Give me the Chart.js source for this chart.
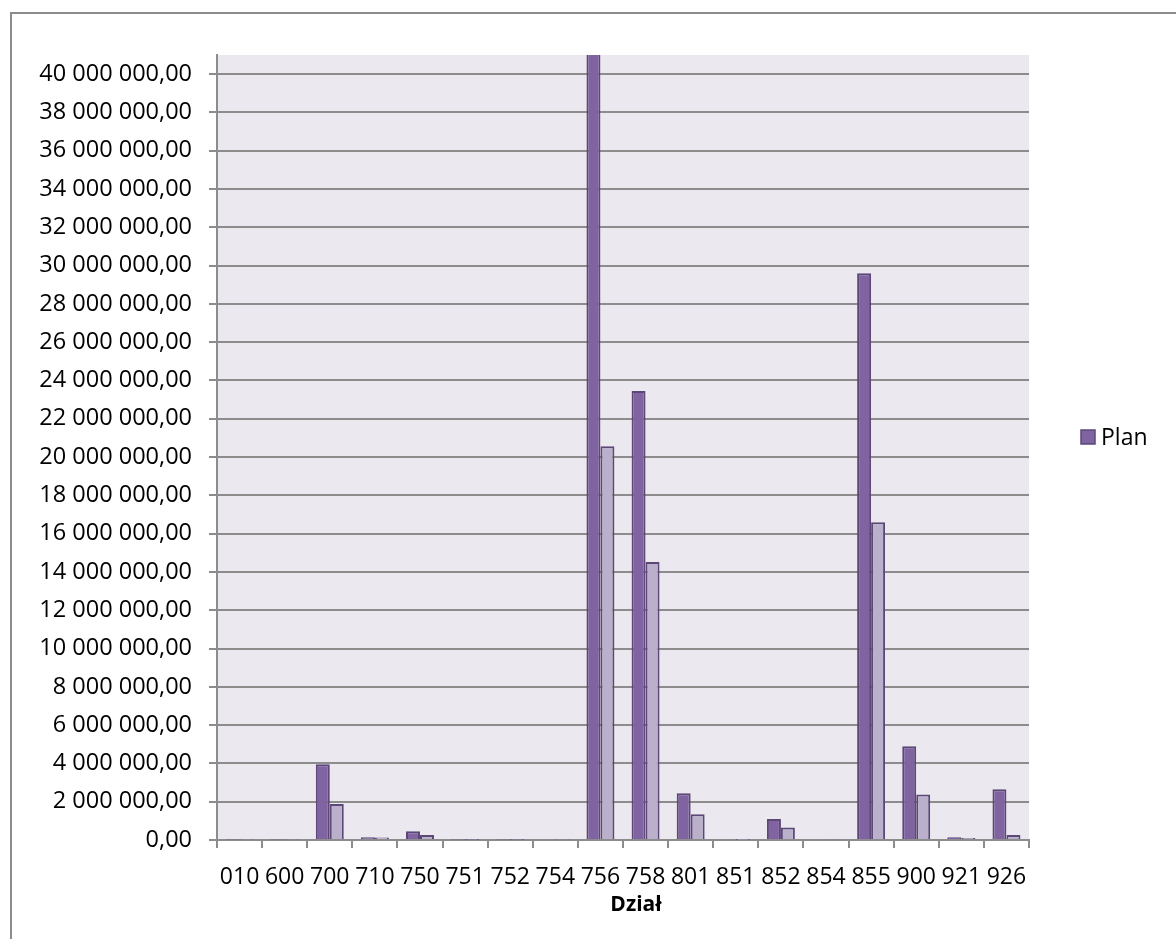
<!DOCTYPE html>
<html>
<head>
<meta charset="utf-8">
<script src="https://cdn.jsdelivr.net/npm/chart.js@4/dist/chart.umd.min.js"></script>
<style>
  body { margin: 0; background: #fff; overflow: hidden; }
  #frame {
    position: absolute; left: 10px; top: 12px; width: 1300px; height: 1100px;
    border-left: 2px solid #8c8c8c; border-top: 2px solid #8c8c8c;
  }
  #wrap { position: absolute; left: 0; top: 0; width: 1176px; height: 939px; }
</style>
</head>
<body>
<div id="frame"></div>
<div id="wrap"><canvas id="chart"></canvas></div>
<script>
const categories = ["010", "600", "700", "710", "750", "751", "752", "754", "756",
                    "758", "801", "851", "852", "854", "855", "900", "921", "926"];
const plan = [30000, 25000, 3950000, 140000, 460000, 20000, 20000, null, 42800000,
              23450000, 2440000, null, 1100000, 50000, 29600000, 4900000, 150000, 2650000];
const wykonanie = [25000, 20000, 1880000, 130000, 260000, 15000, 15000, 20000, 20570000,
                   14520000, 1340000, 10000, 650000, 45000, 16590000, 2380000, 100000, 260000];
const yTicks = [0, 2000000, 4000000, 6000000, 8000000, 10000000, 12000000, 14000000,
                16000000, 18000000, 20000000, 22000000, 24000000, 26000000, 28000000,
                30000000, 32000000, 34000000, 36000000, 38000000, 40000000];
const yMax = 41000000;
const xTitle = "Dział";

const FONT = "'Open Sans', sans-serif";

// "40 000 000,00"
function plNumber(v) {
    const parts = v.toFixed(2).split(".");
    const int = parts[0].replace(/\B(?=(\d{3})+(?!\d))/g, " ");
    return int + "," + parts[1];
}

const plotBg = {
    id: "plotBg",
    beforeDraw(chart) {
        const { ctx, chartArea: a } = chart;
        ctx.save();
        ctx.fillStyle = "#ebe9ef";
        ctx.fillRect(a.left, a.top, a.right - a.left, a.bottom - a.top);
        ctx.restore();
    },
};

// legend only shows the first series, like the original; axis title sits a bit right of centre
const extras = {
    id: "extras",
    afterDraw(chart) {
        const { ctx, chartArea: a } = chart;
        const ds = chart.data.datasets[0];
        const x = a.right + 52;
        const y = a.top + 382;
        ctx.save();
        ctx.fillStyle = ds.backgroundColor;
        ctx.strokeStyle = ds.borderColor;
        ctx.lineWidth = 1.5;
        ctx.fillRect(x, y - 7, 14, 14);
        ctx.strokeRect(x, y - 7, 14, 14);
        ctx.fillStyle = "#000";
        ctx.font = "23px " + FONT;
        ctx.textBaseline = "middle";
        ctx.fillText(ds.label, x + 20, y + 1);

        ctx.font = "bold 21px " + FONT;
        ctx.textAlign = "center";
        ctx.fillText(xTitle, (a.left + a.right) / 2 + 13, a.bottom + 65);
        ctx.restore();
    },
};

new Chart(document.getElementById("chart"), {
    type: "bar",
    data: {
        labels: categories,
        datasets: [
            {
                label: "Plan",
                data: plan,
                backgroundColor: "#8064a2",
                borderColor: "#5c4777",
                borderWidth: 2,
            },
            {
                label: "Wykonanie",
                data: wykonanie,
                backgroundColor: "#bab0cc",
                borderColor: "#5c4777",
                borderWidth: 2,
            },
        ],
    },
    options: {
        responsive: true,
        maintainAspectRatio: false,
        animation: false,
        datasets: { bar: { categoryPercentage: 0.62, barPercentage: 1.0 } },
        layout: { padding: { top: 55, right: 147, left: 0, bottom: 0 } },
        plugins: {
            legend: { display: false },
            tooltip: { enabled: false },
        },
        scales: {
            x: {
                afterFit: (s) => { s.height = 99; },
                grid: {
                    offset: true,
                    drawOnChartArea: false,
                    tickLength: 8,
                    color: "#8c8c8c",
                    lineWidth: 2,
                },
                border: { color: "#8c8c8c", width: 2 },
                ticks: {
                    color: "#000",
                    font: { family: FONT, size: 23 },
                    padding: 16,
                    maxRotation: 0,
                    autoSkip: false,
                },
            },
            y: {
                min: 0,
                max: yMax,
                afterFit: (s) => { s.width = 217; },
                afterBuildTicks: (s) => { s.ticks = yTicks.map((v) => ({ value: v })); },
                grid: {
                    color: "#8c8c8c",
                    lineWidth: 2,
                    tickLength: 8,
                },
                border: { color: "#8c8c8c", width: 2 },
                ticks: {
                    color: "#000",
                    font: { family: FONT, size: 23.5 },
                    padding: 17,
                    callback: (v) => plNumber(v),
                },
            },
        },
    },
    plugins: [plotBg, extras],
});
</script>
</body>
</html>
